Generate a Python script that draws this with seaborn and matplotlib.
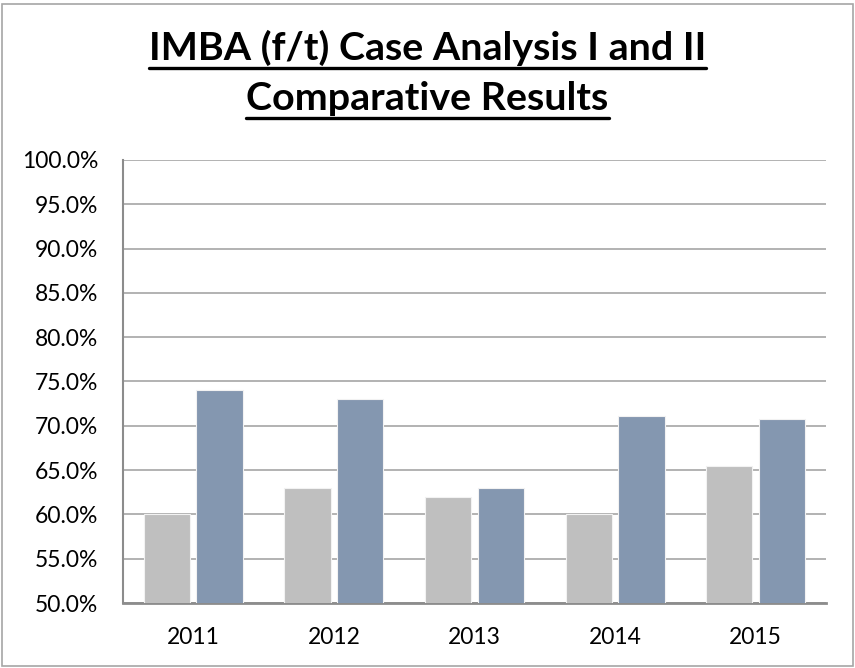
import matplotlib
matplotlib.use('Agg')
import matplotlib.pyplot as plt
import pandas as pd
import seaborn as sns
from matplotlib.lines import Line2D
from matplotlib.patches import Rectangle
from matplotlib.ticker import PercentFormatter, MultipleLocator

# data (percent)
years = ['2011', '2012', '2013', '2014', '2015']
case_1 = [60.0, 63.0, 62.0, 60.0, 65.5]
case_2 = [74.0, 73.0, 63.0, 71.1, 70.8]
series_names = ['Case Analysis I', 'Case Analysis II']
title_lines = ['IMBA (f/t) Case Analysis I and II', 'Comparative Results']

df = pd.DataFrame({'year': years * 2,
                   'score': case_1 + case_2,
                   'series': [series_names[0]] * len(years) + [series_names[1]] * len(years)})

sns.set_style('white')
plt.rcParams['font.family'] = ['Lato', 'DejaVu Sans']

fig = plt.figure(figsize=(8.55, 6.68), dpi=100)
ax = fig.add_axes([0.1439, 0.0973, 0.8221, 0.6632])

sns.barplot(data=df, x='year', y='score', hue='series', ax=ax,
            palette=['#BFBFBF', '#8497B0'], saturation=1, width=0.75, gap=0.12,
            edgecolor='#F2F2F2', linewidth=0.8, legend=False, zorder=3)

ax.set_ylim(50, 100)
ax.yaxis.set_major_locator(MultipleLocator(5))
ax.yaxis.set_major_formatter(PercentFormatter(100, decimals=1))
ax.grid(axis='y', color='#A6A6A6', linewidth=1.2, zorder=0)
ax.set_axisbelow(True)
ax.set_xlabel('')
ax.set_ylabel('')
ax.tick_params(axis='y', length=0, pad=18, labelsize=16.5, labelcolor='black')
ax.tick_params(axis='x', length=0, pad=17, labelsize=16.5, labelcolor='black')

for side in ['top', 'right']:
    ax.spines[side].set_visible(False)
ax.spines['left'].set_color('#8C8C8C')
ax.spines['left'].set_linewidth(1.5)
ax.spines['bottom'].set_color('#8C8C8C')
ax.spines['bottom'].set_linewidth(2)

# title, underlined by hand
baselines = [1 - 60 / 668, 1 - 110 / 668]
texts = []
for line, yb in zip(title_lines, baselines):
    t = fig.text(0.5, yb, line, ha='center', va='baseline',
                 fontsize=28.4, fontweight='bold', color='black')
    texts.append(t)

renderer = fig.canvas.get_renderer()
for t, yb in zip(texts, baselines):
    bb = t.get_window_extent(renderer).transformed(fig.transFigure.inverted())
    uy = yb - 7.5 / 668
    fig.add_artist(Line2D([bb.x0, bb.x1], [uy, uy], color='black', linewidth=2.4,
                          transform=fig.transFigure))

# chart area border
fig.add_artist(Rectangle((0.002, 0.003), 0.996, 0.991, transform=fig.transFigure,
                         fill=False, edgecolor='#A6A6A6', linewidth=1.2))

fig.savefig('out.png', dpi=100)
